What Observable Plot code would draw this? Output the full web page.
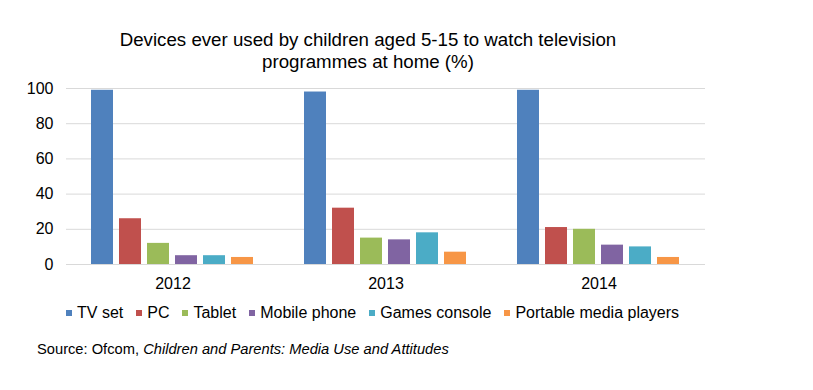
<!DOCTYPE html>
<html>
<head>
<meta charset="utf-8">
<script src="https://cdn.jsdelivr.net/npm/d3@7"></script>
<script src="https://cdn.jsdelivr.net/npm/@observablehq/plot@0.6"></script>
<style>
  html, body { margin: 0; padding: 0; background: #fff; }
  body { width: 813px; height: 390px; position: relative; overflow: hidden; font-family: "Liberation Sans", Arial, sans-serif; color: #000; }
  #title { position: absolute; left: 0; top: 29px; width: 736px; text-align: center; font-size: 18.7px; line-height: 22px; }
  #chart { position: absolute; left: 0; top: 76px; }
  #legend { position: absolute; left: 66px; top: 303px; display: flex; font-size: 16px; line-height: 20px; white-space: nowrap; }
  #legend .item { display: flex; align-items: center; margin-right: 13px; }
  #legend .sw { width: 6px; height: 6px; margin-right: 5px; }
  #source { position: absolute; left: 37px; top: 340px; font-size: 14.7px; line-height: 18px; }
</style>
</head>
<body>
<div id="title">Devices ever used by children aged 5-15 to watch television<br>programmes at home (%)</div>
<div id="chart"></div>
<div id="legend"></div>
<div id="source">Source: Ofcom, <i>Children and Parents: Media Use and Attitudes</i></div>
<script>
const years = ["2012", "2013", "2014"];
const devices = ["TV set", "PC", "Tablet", "Mobile phone", "Games console", "Portable media players"];
const values2012 = [99, 26, 12, 5, 5, 4];
const values2013 = [98, 32, 15, 14, 18, 7];
const values2014 = [99, 21, 20, 11, 10, 4];
const colors = ["#4F81BD", "#C0504D", "#9BBB59", "#8064A2", "#4BACC6", "#F79646"];
const yTicks = [0, 20, 40, 60, 80, 100];

const series = [values2012, values2013, values2014];
const data = years.flatMap((yr, i) => devices.map((d, j) => ({year: yr, device: d, value: series[i][j]})));

const chart = Plot.plot({
  width: 813,
  height: 216,
  marginLeft: 65,
  marginRight: 107,
  marginTop: 12,
  marginBottom: 28,
  style: {fontFamily: "'Liberation Sans', Arial, sans-serif", fontSize: "16px", color: "#000", background: "#fff"},
  fx: {domain: years, padding: 0, label: null},
  x: {domain: devices, paddingInner: 0.21, paddingOuter: 0.84, axis: null},
  y: {domain: [0, 100], label: null},
  color: {domain: devices, range: colors},
  marks: [
    Plot.gridY(yTicks, {stroke: "#d9d9d9", strokeOpacity: 1, strokeWidth: 1}),
    Plot.barY(data, {fx: "year", x: "device", y: "value", fill: "device"}),
    Plot.axisY(yTicks, {tickSize: 0, tickPadding: 13, label: null, fontSize: 16}),
    Plot.axisFx({anchor: "bottom", tickSize: 0, tickPadding: 13, label: null, fontSize: 16})
  ]
});
document.getElementById("chart").appendChild(chart);

const legend = document.getElementById("legend");
devices.forEach((d, i) => {
  const item = document.createElement("div");
  item.className = "item";
  const sw = document.createElement("span");
  sw.className = "sw";
  sw.style.background = colors[i];
  const t = document.createElement("span");
  t.textContent = d;
  item.appendChild(sw);
  item.appendChild(t);
  legend.appendChild(item);
});
</script>
</body>
</html>
